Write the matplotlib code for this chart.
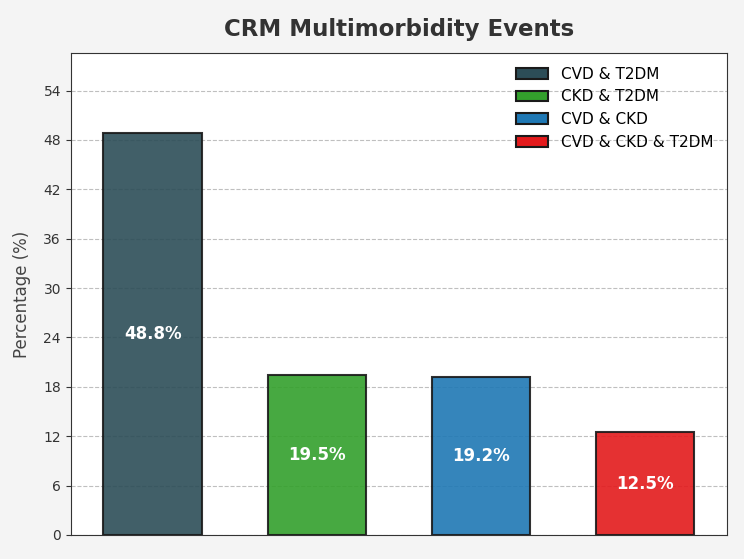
import matplotlib.pyplot as plt
import numpy as np

categories = ["CVD & T2DM", "CKD & T2DM", "CVD & CKD", "CVD & CKD & T2DM"]
values = [48.8, 19.5, 19.2, 12.5]
colors = ["#2c4d57", "#33a02c", "#1f78b4", "#e31a1c"]

fig, ax = plt.subplots(figsize=(7.44, 5.59), dpi=100)
fig.patch.set_facecolor("#f4f4f4")
ax.set_facecolor("white")

x = np.arange(len(categories))
bars = ax.bar(x, values, width=0.6, color=colors, edgecolor="#1a1a1a",
              linewidth=1.5, alpha=0.9, label=categories, zorder=3)

for b, v in zip(bars, values):
    ax.text(b.get_x() + b.get_width() / 2, v / 2, f"{v}%", ha="center", va="center",
            color="white", fontsize=12, fontweight="bold", zorder=4)

ax.set_xlim(-0.5, 3.5)
ax.set_ylim(0, max(values) * 1.2)
ax.set_yticks(np.arange(0, 55, 6))
ax.set_xticks([])
ax.tick_params(axis="y", labelsize=10, colors="#333333")
for s in ax.spines.values():
    s.set_color("#333333")
ax.grid(axis="y", linestyle="--", color="#b0b0b0", alpha=0.8, zorder=0)
ax.set_ylabel("Percentage (%)", fontsize=12, color="#444444", labelpad=9)
ax.set_title("CRM Multimorbidity Events", fontsize=16.5, fontweight="bold", color="#333333", pad=12)

leg = ax.legend(loc="upper right", frameon=False, fontsize=11, handlelength=2.1)
for h in leg.legend_handles:
    h.set_alpha(1)

plt.subplots_adjust(left=0.095, right=0.977, top=0.905, bottom=0.043)
plt.savefig("out.png", facecolor=fig.get_facecolor())
